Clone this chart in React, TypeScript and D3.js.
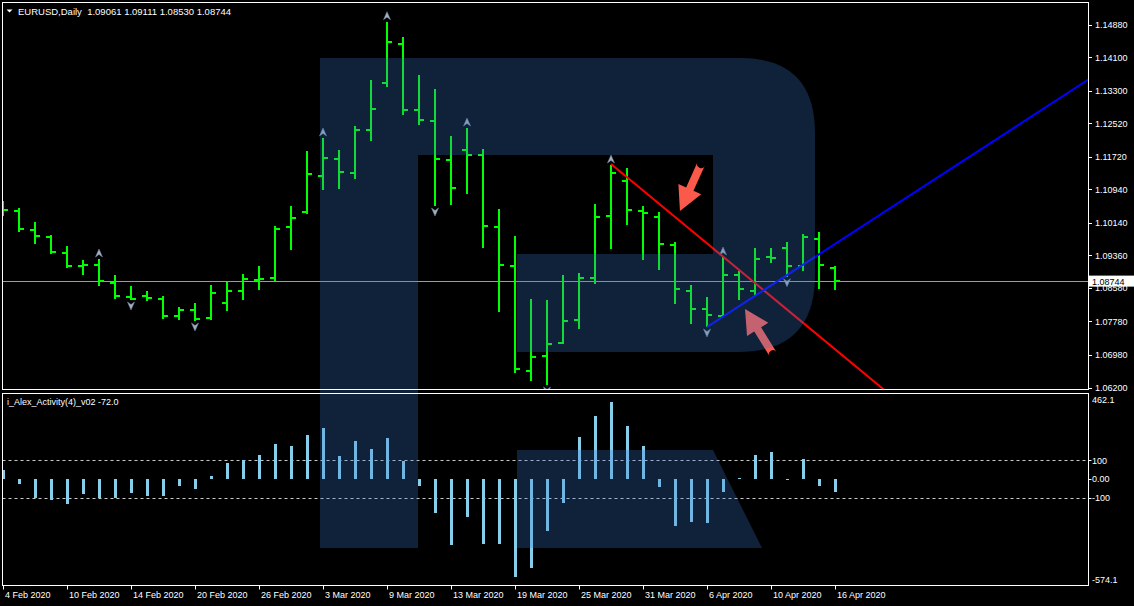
import React from 'react';
import * as d3 from 'd3';

// ---------- DATA ----------
const symbolTitle = 'EURUSD,Daily';
const lastOHLC = ['1.09061', '1.09111', '1.08530', '1.08744'];
const indicatorTitle = 'i_Alex_Activity(4)_v02 -72.0';

const opens = [1.10564,1.10428,1.09973,1.09806,1.09409,1.09105,1.09129,1.08699,1.08371,1.08388,1.08309,1.07910,1.08053,1.07862,1.08221,1.08508,1.08771,1.08819,1.10045,1.10404,1.11265,1.11671,1.11337,1.12365,1.13489,1.14421,1.12843,1.12580,1.11640,1.11879,1.11767,1.10045,1.09105,1.06602,1.06953,1.07257,1.07821,1.08812,1.10301,1.11145,1.10421,1.10277,1.09608,1.08508,1.08077,1.07917,1.08897,1.08515,1.09310,1.09543,1.09112,1.09758,1.09061];
const highs = [1.10660,1.10492,1.10158,1.09847,1.09584,1.09249,1.09273,1.08890,1.08627,1.08508,1.08388,1.08125,1.08221,1.08651,1.08723,1.08914,1.09105,1.10062,1.10540,1.11855,1.12166,1.11879,1.12453,1.13553,1.14947,1.14581,1.13673,1.13338,1.12214,1.12405,1.11896,1.10468,1.09823,1.08316,1.08292,1.08890,1.08938,1.10588,1.11521,1.11449,1.10540,1.10397,1.09679,1.08651,1.08364,1.09321,1.08993,1.09536,1.09536,1.09679,1.09871,1.09918,1.09111];
const lows = [1.10308,1.09918,1.09632,1.09392,1.09058,1.08890,1.08627,1.08316,1.08292,1.08269,1.07838,1.07814,1.07790,1.07826,1.08029,1.08292,1.08532,1.08747,1.09488,1.10356,1.10923,1.10947,1.11186,1.12094,1.13393,1.12723,1.12484,1.10540,1.10564,1.10834,1.09543,1.08013,1.06540,1.06363,1.06260,1.07240,1.07599,1.08675,1.09512,1.10086,1.09249,1.09010,1.08197,1.07719,1.07647,1.07893,1.08292,1.08388,1.09184,1.08850,1.08993,1.08563,1.08530];
const closes = [1.10445,1.09990,1.09823,1.09440,1.09105,1.09129,1.08754,1.08388,1.08324,1.08340,1.07910,1.08053,1.07838,1.08460,1.08508,1.08795,1.08795,1.09990,1.10253,1.11313,1.11695,1.11360,1.12365,1.12867,1.14462,1.12843,1.12604,1.11671,1.10978,1.11767,1.10062,1.09129,1.06642,1.06937,1.07247,1.07797,1.08826,1.10277,1.11329,1.10445,1.10380,1.09632,1.08555,1.08077,1.07941,1.08897,1.08563,1.09280,1.09300,1.09112,1.09806,1.09137,1.08744];
const activity = [48,-27,-100,-113,-134,-81,-100,-100,-75,-91,-91,-38,-54,16,86,100,129,188,177,237,274,124,204,161,220,98,-38,-181,-353,-203,-348,-348,-525,-477,-278,-127,226,339,414,285,177,-41,-251,-229,-235,-68,5,129,145,-3,108,-36,-72];

const fractalUp = [6, 20, 24, 29, 38, 45];
const fractalDown = [8, 12, 27, 34, 44, 49];

const priceTicks = [1.14880,1.14100,1.13300,1.12520,1.11720,1.10940,1.10140,1.09360,1.08580,1.07780,1.06980,1.06200];
const currentPrice = 1.08744;
const indTicks = [100, 0, -100];
const indTickLabels = ['100', '0.00', '-100'];
const indMax = 462.1;
const indMin = -574.1;

const timeTickIdx = [0,4,8,12,16,20,24,28,32,36,40,44,48,52];
const timeTickLabels = ['4 Feb 2020','10 Feb 2020','14 Feb 2020','20 Feb 2020','26 Feb 2020','3 Mar 2020','9 Mar 2020','13 Mar 2020','19 Mar 2020','25 Mar 2020','31 Mar 2020','6 Apr 2020','10 Apr 2020','16 Apr 2020'];

// trendlines: two anchor points [barIndex, price]
const redLine = [[38, 1.11544], [45, 1.09330]];
const blueLine = [[44, 1.07647], [49, 1.08888]];
// annotation arrows: [tailIndex, tailPrice, tipIndex, tipPrice]
const noteArrows = [[43.63, 1.11544, 42.31, 1.10421], [48.125, 1.06999, 46.375, 1.08077]];

// ---------- LAYOUT ----------
const W = 1134, H = 606;
const L = 2.5, R = 1088.5, mainTop = 2.5, mainBottom = 389.5, indTop = 393.5, indBottom = 585.5;
const FONT = "Tahoma, 'Liberation Sans', Arial, sans-serif";

const x = d3.scaleLinear().domain([0, 52]).range([3, 835]);
const y = d3.scaleLinear().domain([1.062, 1.1488]).range([387.5, 24.5]);
const yi = d3.scaleLinear().domain([indMin, indMax]).range([585.8, 393]);

function rayPath(line: number[][], xEnd: number) {
  const x1 = x(line[0][0]), y1 = y(line[0][1]);
  const x2 = x(line[1][0]), y2 = y(line[1][1]);
  const s = (y2 - y1) / (x2 - x1);
  return `M${x1},${y1}L${xEnd},${y1 + s * (xEnd - x1)}`;
}

function bigArrow(a: number[]) {
  const tx = x(a[0]), ty = y(a[1]), px = x(a[2]), py = y(a[3]);
  const dx = px - tx, dy = py - ty;
  const len = Math.hypot(dx, dy);
  const ux = dx / len, uy = dy / len;
  const nx = -uy, ny = ux;
  const w = 4, hl = 24, hw = 12.5;
  const bx = px - ux * hl, by = py - uy * hl;
  const p = (X: number, Y: number) => `${X},${Y}`;
  return `M${p(tx + nx * w, ty + ny * w)}L${p(bx + nx * w, by + ny * w)}L${p(bx + nx * hw, by + ny * hw)}L${p(px, py)}L${p(bx - nx * hw, by - ny * hw)}L${p(bx - nx * w, by - ny * w)}L${p(tx - nx * w, ty - ny * w)}A${w},${w} 0 0 1 ${p(tx + nx * w, ty + ny * w)}Z`;
}

function fractal(i: number, up: boolean) {
  const cx = x(i);
  if (up) {
    const t = y(highs[i]) - 10;
    return `M${cx},${t}L${cx + 3.5},${t + 8}L${cx},${t + 5.5}L${cx - 3.5},${t + 8}Z`;
  }
  const t = y(lows[i]) + 10;
  return `M${cx},${t}L${cx + 3.5},${t - 8}L${cx},${t - 5.5}L${cx - 3.5},${t - 8}Z`;
}

export default function App() {
  const idx = d3.range(opens.length);
  return (
    <svg width={W} height={H} style={{ position: 'absolute', left: 0, top: 0, display: 'block', background: '#000' }} fontFamily={FONT}>
      <defs>
        <clipPath id="mainClip"><rect x={L} y={mainTop} width={R - L} height={mainBottom - mainTop} /></clipPath>
        <clipPath id="indClip"><rect x={L} y={indTop} width={R - L} height={indBottom - indTop} /></clipPath>
      </defs>
      <rect x={0} y={0} width={W} height={H} fill="#000" />

      {/* main panel */}
      <g clipPath="url(#mainClip)">
        <line x1={L} x2={R} y1={Math.round(y(currentPrice)) + 0.5} y2={Math.round(y(currentPrice)) + 0.5} stroke="#9a9aa4" strokeWidth={1} />
        {idx.map(i => {
          const cx = Math.round(x(i));
          const hy = y(highs[i]), ly = y(lows[i]);
          return (
            <g key={i} fill="#00ff00" shapeRendering="crispEdges">
              <rect x={cx - 1} y={Math.round(hy)} width={2} height={Math.max(1, Math.round(ly) - Math.round(hy))} />
              <rect x={cx - 5} y={Math.round(y(opens[i])) - 1} width={4} height={2} />
              <rect x={cx + 1} y={Math.round(y(closes[i])) - 1} width={4} height={2} />
            </g>
          );
        })}
        {fractalUp.map(i => <path key={'u' + i} d={fractal(i, true)} fill="#a9adb5" stroke="#6f8fb0" strokeWidth={0.5} />)}
        {fractalDown.map(i => <path key={'d' + i} d={fractal(i, false)} fill="#a9adb5" stroke="#6f8fb0" strokeWidth={0.5} />)}
        <path d={rayPath(redLine, 1100)} stroke="#ff0000" strokeWidth={2} fill="none" />
        <path d={rayPath(blueLine, 1100)} stroke="#0000ff" strokeWidth={2} fill="none" />
        {noteArrows.map((a, k) => <path key={'a' + k} d={bigArrow(a)} fill="#fb5a4b" />)}
      </g>

      {/* indicator panel */}
      <g clipPath="url(#indClip)">
        {[100, -100].map(v => (
          <line key={v} x1={L} x2={R} y1={Math.round(yi(v)) + 0.5} y2={Math.round(yi(v)) + 0.5} stroke="#c8c8c8" strokeDasharray="3,3" strokeWidth={1} />
        ))}
        {idx.map(i => {
          const cx = Math.round(x(i));
          const y0 = Math.round(yi(0)), y1 = Math.round(yi(activity[i]));
          return <rect key={i} x={cx - 1} y={Math.min(y0, y1)} width={3} height={Math.max(1, Math.abs(y1 - y0))} fill="#87ceeb" shapeRendering="crispEdges" />;
        })}
      </g>

      {/* watermark overlay */}
      <g fill="rgb(57,121,207)" opacity={0.28}>
        <path d="M320,58H740Q815,58 815,133V275Q815,352 738,352H517V254H713V155H418V548H320Z" />
        <path d="M517,450H713L762,548H517Z" />
      </g>

      {/* frames */}
      <g fill="none" stroke="#ffffff" strokeWidth={1} shapeRendering="crispEdges">
        <rect x={L} y={mainTop} width={R - L} height={mainBottom - mainTop} />
        <rect x={L} y={indTop} width={R - L} height={indBottom - indTop} />
      </g>

      {/* price axis */}
      <g fill="#ffffff" fontSize={9}>
        {priceTicks.map(p => (
          <g key={p}>
            <line x1={R} x2={R + 3.5} y1={Math.round(y(p)) + 0.5} y2={Math.round(y(p)) + 0.5} stroke="#fff" />
            <text x={1095} y={y(p) + 3.5}>{p.toFixed(5)}</text>
          </g>
        ))}
        <rect x={1089} y={y(currentPrice) - 5.5} width={45} height={11} fill="#ffffff" />
        <text x={1092} y={y(currentPrice) + 3.5} fill="#000">{currentPrice.toFixed(5)}</text>
      </g>

      {/* indicator axis */}
      <g fill="#ffffff" fontSize={9}>
        <text x={1092} y={yi(indMax) + 10}>{indMax.toFixed(1)}</text>
        <text x={1092} y={yi(indMin) - 3}>{indMin.toFixed(1)}</text>
        {indTicks.map((v, k) => (
          <g key={v}>
            <line x1={R} x2={R + 3} y1={Math.round(yi(v)) + 0.5} y2={Math.round(yi(v)) + 0.5} stroke="#fff" />
            <text x={1092} y={yi(v) + 3.5}>{indTickLabels[k]}</text>
          </g>
        ))}
      </g>

      {/* time axis */}
      <g fill="#ffffff" fontSize={9}>
        {timeTickIdx.map((t, k) => (
          <g key={t}>
            <line x1={Math.round(x(t)) + 0.5} x2={Math.round(x(t)) + 0.5} y1={indBottom} y2={indBottom + 4} stroke="#fff" />
            <text x={x(t) + 2} y={598}>{timeTickLabels[k]}</text>
          </g>
        ))}
      </g>

      {/* titles */}
      <path d="M6.5,9.5L12.5,9.5L9.5,12.5Z" fill="#fff" />
      <text x={18} y={14.5} fill="#fff" fontSize={9.5} style={{ whiteSpace: 'pre' }}>{symbolTitle + '  ' + lastOHLC.join(' ')}</text>
      <text x={7} y={404.5} fill="#fff" fontSize={9}>{indicatorTitle}</text>
    </svg>
  );
}
